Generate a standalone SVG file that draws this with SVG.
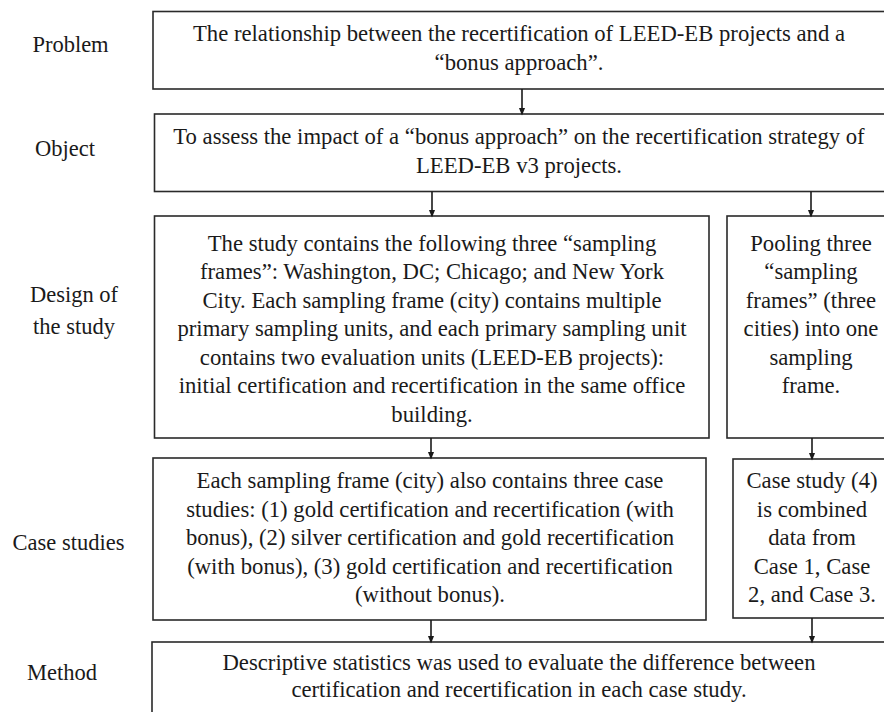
<svg xmlns="http://www.w3.org/2000/svg" width="884" height="712" viewBox="0 0 884 712">
<style>
.box{fill:#fff;stroke:#2a2a2a;stroke-width:1.6}
text{font-family:'Liberation Serif','Times New Roman',Times,serif;fill:#1a1a1a;text-anchor:middle}
.t{font-size:22.7px}
.lbl{font-size:22.5px}
.conn{stroke:#1a1a1a;stroke-width:1.6;fill:none}
</style>
<defs>
<marker id="ah" markerWidth="8" markerHeight="10" refX="8" refY="4" orient="auto" markerUnits="userSpaceOnUse" viewBox="0 0 10 8">
<path d="M0,0 L10,4 L0,8 Z" fill="#1a1a1a"/>
</marker>
</defs>
<rect width="884" height="712" fill="#fff"/>

<g id="labels">
<text class="lbl" x="70.5" y="51.5">Problem</text>
<text class="lbl" x="65" y="155.5">Object</text>
<text class="lbl" x="74" y="301.5">Design of</text>
<text class="lbl" x="74" y="333.5">the study</text>
<text class="lbl" x="68.5" y="549.5">Case studies</text>
<text class="lbl" x="62" y="679.5">Method</text>
</g>

<g id="problem">
<rect class="box" x="153" y="11.5" width="740" height="77.5"/>
<text class="t" x="519" y="41">The relationship between the recertification of LEED-EB projects and a</text>
<text class="t" x="519" y="69.5">“bonus approach”.</text>
</g>

<g id="object">
<rect class="box" x="154.5" y="114" width="740" height="77.5"/>
<text class="t" x="519" y="144">To assess the impact of a “bonus approach” on the recertification strategy of</text>
<text class="t" x="519" y="172.5">LEED-EB v3 projects.</text>
</g>

<g id="design">
<rect class="box" x="154.5" y="216" width="554.5" height="222"/>
<text class="t" x="432" y="250.5">The study contains the following three “sampling</text>
<text class="t" x="432" y="279">frames”: Washington, DC; Chicago; and New York</text>
<text class="t" x="432" y="307.5">City. Each sampling frame (city) contains multiple</text>
<text class="t" x="432" y="336">primary sampling units, and each primary sampling unit</text>
<text class="t" x="432" y="364.5">contains two evaluation units (LEED-EB projects):</text>
<text class="t" x="432" y="393">initial certification and recertification in the same office</text>
<text class="t" x="432" y="421.5">building.</text>
</g>

<g id="pooling">
<rect class="box" x="727" y="216" width="170" height="222"/>
<text class="t" x="811" y="250.5">Pooling three</text>
<text class="t" x="811" y="279">“sampling</text>
<text class="t" x="811" y="307.5">frames” (three</text>
<text class="t" x="811" y="336">cities) into one</text>
<text class="t" x="811" y="364.5">sampling</text>
<text class="t" x="811" y="393">frame.</text>
</g>

<g id="cases">
<rect class="box" x="153" y="458" width="553" height="162"/>
<text class="t" x="430" y="488">Each sampling frame (city) also contains three case</text>
<text class="t" x="430" y="516.5">studies: (1) gold certification and recertification (with</text>
<text class="t" x="430" y="545">bonus), (2) silver certification and gold recertification</text>
<text class="t" x="430" y="573.5">(with bonus), (3) gold certification and recertification</text>
<text class="t" x="430" y="602">(without bonus).</text>
</g>

<g id="case4">
<rect class="box" x="733" y="459" width="160" height="159"/>
<text class="t" x="812" y="488">Case study (4)</text>
<text class="t" x="812" y="516.5">is combined</text>
<text class="t" x="812" y="545">data from</text>
<text class="t" x="812" y="573.5">Case 1, Case</text>
<text class="t" x="812" y="602">2, and Case 3.</text>
</g>

<g id="method">
<rect class="box" x="152" y="642" width="745" height="90"/>
<text class="t" x="519" y="670">Descriptive statistics was used to evaluate the difference between</text>
<text class="t" x="519" y="697">certification and recertification in each case study.</text>
</g>

<g id="connectors">
<line class="conn" x1="522" y1="89" x2="522" y2="114" marker-end="url(#ah)"/>
<line class="conn" x1="432" y1="191.5" x2="432" y2="216" marker-end="url(#ah)"/>
<line class="conn" x1="811" y1="191.5" x2="811" y2="216" marker-end="url(#ah)"/>
<line class="conn" x1="431" y1="438" x2="431" y2="458" marker-end="url(#ah)"/>
<line class="conn" x1="812" y1="438" x2="812" y2="459" marker-end="url(#ah)"/>
<line class="conn" x1="431" y1="620" x2="431" y2="642" marker-end="url(#ah)"/>
<line class="conn" x1="812" y1="618" x2="812" y2="642" marker-end="url(#ah)"/>
</g>
</svg>
